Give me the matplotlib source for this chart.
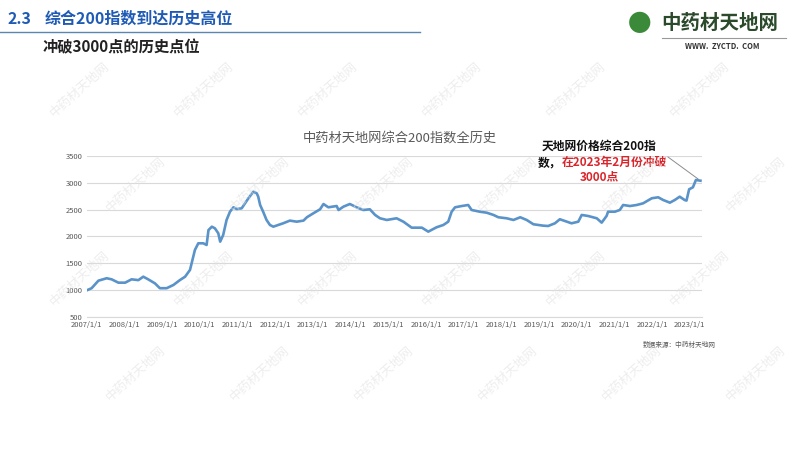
import numpy as np
import matplotlib.pyplot as plt
from matplotlib.lines import Line2D

plt.rcParams['font.family'] = ['Noto Sans CJK SC', 'DejaVu Sans']

# index history (decimal year, index value)
years = [2007.00, 2007.13, 2007.31, 2007.53, 2007.66, 2007.84, 2008.02, 2008.19, 2008.37, 2008.50,
         2008.63, 2008.81, 2008.94, 2009.12, 2009.30, 2009.47, 2009.61, 2009.74, 2009.87, 2009.96,
         2010.09, 2010.18, 2010.23, 2010.32, 2010.40, 2010.49, 2010.54, 2010.62, 2010.71, 2010.80,
         2010.89, 2010.98, 2011.11, 2011.20, 2011.29, 2011.42, 2011.51, 2011.55, 2011.60, 2011.68,
         2011.77, 2011.86, 2011.95, 2012.08, 2012.21, 2012.39, 2012.57, 2012.75, 2012.84, 2013.01,
         2013.19, 2013.28, 2013.41, 2013.63, 2013.68, 2013.81, 2013.98, 2014.16, 2014.34, 2014.51,
         2014.65, 2014.78, 2014.96, 2015.22, 2015.40, 2015.62, 2015.89, 2016.06, 2016.28, 2016.46,
         2016.59, 2016.68, 2016.77, 2016.95, 2017.12, 2017.21, 2017.43, 2017.61, 2017.79, 2017.92,
         2018.14, 2018.32, 2018.50, 2018.67, 2018.85, 2019.11, 2019.24, 2019.42, 2019.55, 2019.68,
         2019.86, 2020.04, 2020.13, 2020.30, 2020.53, 2020.66, 2020.79, 2020.83, 2021.01, 2021.14,
         2021.23, 2021.41, 2021.59, 2021.76, 2021.99, 2022.16, 2022.29, 2022.47, 2022.60, 2022.73,
         2022.86, 2022.91, 2022.98, 2023.08, 2023.16, 2023.28]
index_vals = [1000, 1040, 1180, 1225, 1205, 1143, 1143, 1205, 1190, 1254,
              1205, 1130, 1040, 1040, 1100, 1190, 1254, 1380, 1750, 1874,
              1874, 1843, 2120, 2182, 2152, 2060, 1904, 2028, 2307, 2460,
              2542, 2510, 2523, 2616, 2710, 2832, 2802, 2739, 2585, 2460,
              2307, 2214, 2182, 2214, 2245, 2295, 2275, 2295, 2357, 2430,
              2505, 2603, 2542, 2566, 2492, 2554, 2603, 2542, 2492, 2505,
              2400, 2338, 2307, 2338, 2275, 2164, 2164, 2090, 2171, 2214,
              2275, 2460, 2542, 2566, 2585, 2492, 2460, 2442, 2400, 2357,
              2338, 2307, 2357, 2307, 2227, 2201, 2195, 2245, 2320, 2289,
              2245, 2275, 2400, 2381, 2338, 2257, 2381, 2460, 2460, 2492,
              2585, 2566, 2585, 2616, 2710, 2728, 2678, 2628, 2678, 2739,
              2678, 2666, 2876, 2913, 3049, 3036]

tick_years = list(range(2007, 2024))
tick_labels = [f"{y}/1/1" for y in tick_years]
y_ticks = [500, 1000, 1500, 2000, 2500, 3000, 3500]

fig = plt.figure(figsize=(8, 4.5), dpi=100)
fig.patch.set_facecolor('white')

# faint diagonal watermarks, kept inside the page
for row in range(4):
    for col in range(6):
        wx = 0.10 + col * 0.155 + (0.07 if row % 2 else 0)
        wy = 0.80 - row * 0.21
        fig.text(wx, wy, "中药材天地网", fontsize=9, color='#e2e2e2', alpha=0.6,
                 rotation=42, ha='center', va='center', zorder=10)

# header
fig.text(0.010, 0.958, "2.3", fontsize=11.5, fontweight='bold', color='#1f5bb5', va='center')
fig.text(0.056, 0.958, "综合200指数到达历史高位", fontsize=11.5, fontweight='bold',
         color='#1f5bb5', va='center')
fig.add_artist(Line2D([0.0, 0.525], [0.928, 0.928], color='#5b86b0', lw=1.0))
fig.text(0.053, 0.895, "冲破3000点的历史点位", fontsize=11, fontweight='bold',
         color='#222222', va='center')

# logo
fig.text(0.800, 0.945, "●", fontsize=17, color='#3a8a3a', ha='center', va='center')
fig.text(0.826, 0.948, "中药材天地网", fontsize=14, fontweight='bold', color='#2b4a2b',
         va='center')
fig.add_artist(Line2D([0.828, 0.982], [0.915, 0.915], color='#999999', lw=0.8))
fig.text(0.903, 0.897, "WWW.  ZYCTD.  COM", fontsize=5.5, fontweight='bold',
         color='#333333', ha='center', va='center')

ax = fig.add_axes([0.1084, 0.2949, 0.7695, 0.3591])
ax.plot(years, index_vals, color='#5a93c9', lw=1.9, zorder=3)

ax.set_xlim(2007.0, 2023.33)
ax.set_ylim(500, 3500)
ax.set_yticks(y_ticks)
ax.set_xticks(tick_years)
ax.set_xticklabels(tick_labels)
ax.tick_params(axis='both', length=0, labelsize=5.5, colors='#595959', pad=3)
ax.grid(axis='y', color='#d9d9d9', lw=0.8)
ax.set_axisbelow(True)
for side in ['top', 'right', 'left']:
    ax.spines[side].set_visible(False)
ax.spines['bottom'].set_color('#d9d9d9')
ax.spines['bottom'].set_linewidth(0.8)

fig.text(0.5, 0.693, "中药材天地网综合200指数全历史", fontsize=9.5, color='#595959',
         ha='center', va='center')

# annotation
fig.text(0.749, 0.674, "天地网价格综合200指", fontsize=8.5, fontweight='bold',
         color='#111111', ha='center', va='center')
fig.text(0.672, 0.638, "数，", fontsize=8.5, fontweight='bold', color='#111111',
         ha='left', va='center')
fig.text(0.702, 0.638, "在2023年2月份冲破", fontsize=8.5, fontweight='bold',
         color='#d9262c', ha='left', va='center')
fig.text(0.749, 0.607, "3000点", fontsize=8.5, fontweight='bold', color='#d9262c',
         ha='center', va='center')
ax.annotate("", xy=(years[-1], index_vals[-1]), xycoords='data',
            xytext=(0.832, 0.655), textcoords='figure fraction',
            arrowprops=dict(arrowstyle='-', color='#8c8c8c', lw=0.7))

fig.text(0.895, 0.233, "数据来源：中药材天地网", fontsize=4.8, color='#595959',
         ha='right', va='center')

fig.savefig("out.png", dpi=100)
